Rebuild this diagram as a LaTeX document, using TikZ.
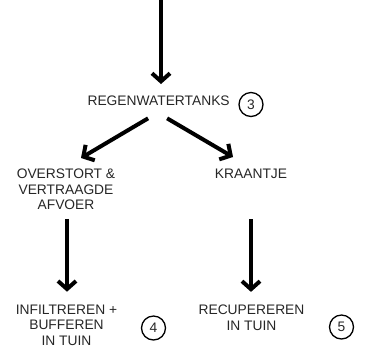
\documentclass[tikz,border=0pt]{standalone}
\usepackage{fontspec}
\setmainfont{Liberation Sans}
\usetikzlibrary{arrows.meta,calc}
\begin{document}
\begin{tikzpicture}[x=1pt,y=1pt,
  lbl/.style={inner sep=0pt, anchor=base, align=center, font=\fontsize{13.8}{15.3}\selectfont, text=black!85},
  num/.style={draw, circle, line width=1.3pt, minimum size=24pt, inner sep=0pt, font=\fontsize{13.8}{15.3}\selectfont, text=black!85},
  arr/.style={line width=4pt, -{Straight Barb[length=8pt,width=18pt]}}]
\useasboundingbox (0,0) rectangle (366,-360);
\node[lbl] (reg) at (158.6,-105.5) {REGENWATERTANKS};
\node[num] (n3) at (251,-104.5) {3};
\node[lbl] (over) at (66,-209.5) {OVERSTORT \&\\VERTRAAGDE\\AFVOER};
\node[lbl] (kraan) at (251,-178) {KRAANTJE};
\node[lbl] (infil) at (66.5,-345) {INFILTREREN +\\BUFFEREN\\IN TUIN};
\node[num] (n4) at (153.5,-328) {4};
\node[lbl] (recup) at (251.5,-330) {RECUPEREREN\\IN TUIN};
\node[num] (n5) at (341.5,-327) {5};
\coordinate (top) at (161,0);
\draw[arr] (top) -- (top |- 0,-84);
\draw[arr] ($(reg.south)+(-10.5,-12.5)$) -- (81,-158);
\draw[arr] ($(reg.south)+(8.5,-12.5)$) -- (233,-157);
\draw[arr] ($(over.south)+(1,-9)$) -- ($(infil.north)+(0.5,13)$);
\draw[arr] ($(kraan.south)+(0,-41)$) -- ($(recup.north)+(-0.5,13)$);
\end{tikzpicture}
\end{document}
